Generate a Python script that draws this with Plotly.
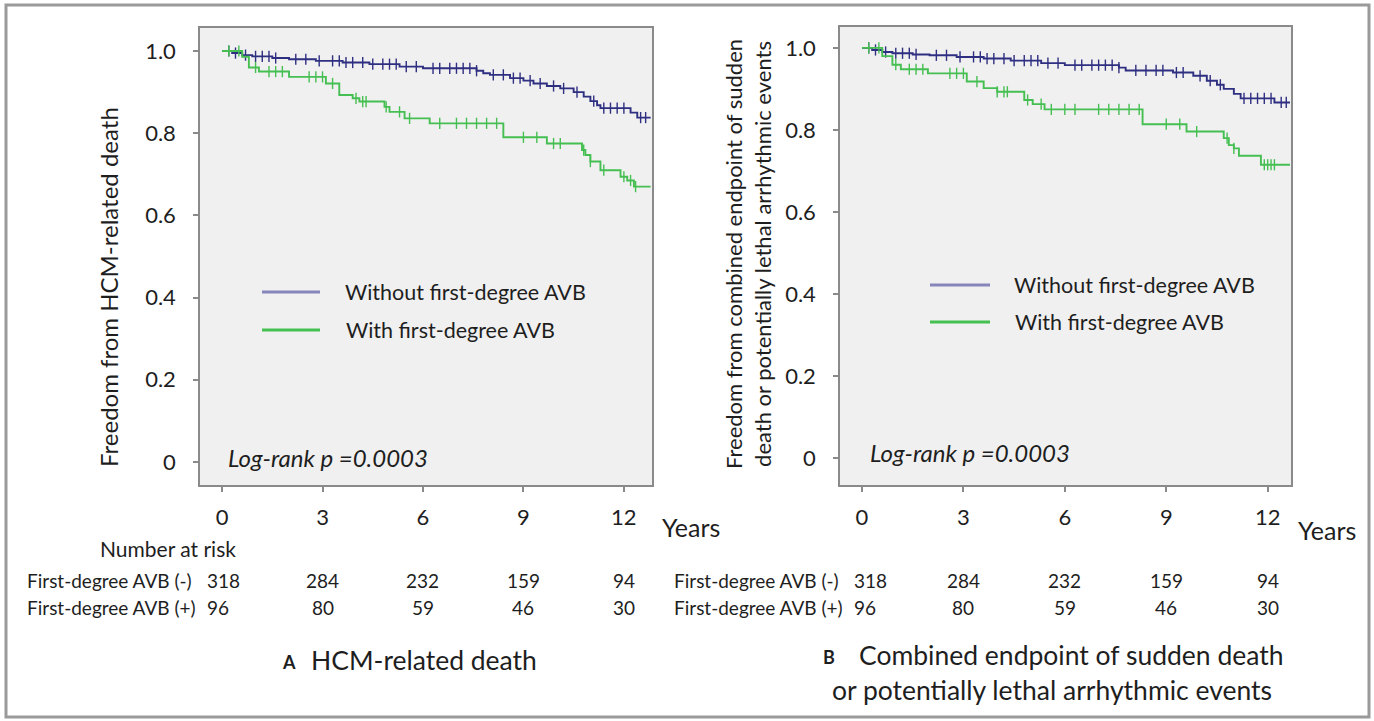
import numpy as np
import plotly.graph_objects as go

W, H = 1374, 721

# ---------------- data ----------------
years_ticks = [0, 3, 6, 9, 12]
surv_ticks = [0, 0.2, 0.4, 0.6, 0.8, 1.0]
surv_ticktext = ["0", "0.2", "0.4", "0.6", "0.8", "1.0"]

# Panel A: HCM-related death
a_without_t = [0, 0.3, 0.6, 0.9, 1.5, 2.0, 2.8, 3.6, 4.4, 5.3, 6.0, 7.6, 7.8, 8.0, 8.6, 9.0, 9.3, 9.7, 10.1, 10.5, 10.8, 11.0, 11.2, 11.3, 12.2, 12.4]
a_without_s = [1.0, 0.995, 0.99, 0.987, 0.983, 0.98, 0.976, 0.972, 0.968, 0.962, 0.958, 0.952, 0.946, 0.942, 0.934, 0.928, 0.921, 0.915, 0.909, 0.9, 0.889, 0.878, 0.868, 0.861, 0.85, 0.838]
a_with_t = [0, 0.6, 0.8, 1.1, 2.0, 3.1, 3.5, 3.9, 4.1, 4.85, 5.0, 5.45, 6.2, 8.4, 9.7, 10.75, 10.85, 11.0, 11.3, 11.9, 12.1, 12.3]
a_with_s = [1.0, 0.986, 0.96, 0.95, 0.937, 0.921, 0.893, 0.885, 0.877, 0.864, 0.852, 0.836, 0.824, 0.79, 0.775, 0.759, 0.747, 0.731, 0.71, 0.694, 0.685, 0.67]
a_end = 12.8
a_without_cens = [0.2, 0.4, 0.7, 1.0, 1.2, 1.4, 1.6, 2.2, 2.5, 2.9, 3.3, 3.5, 3.7, 3.9, 4.2, 4.5, 4.8, 5.0, 5.2, 5.5, 5.8, 6.3, 6.5, 6.8, 7.0, 7.2, 7.4, 7.6, 8.1, 8.4, 8.7, 8.9, 9.2, 9.5, 9.9, 10.2, 10.6, 11.1, 11.4, 11.6, 11.8, 12.0, 12.5, 12.65]
a_with_cens = [0.2, 0.5, 1.0, 1.4, 1.6, 1.8, 2.6, 2.8, 3.0, 3.3, 4.0, 4.2, 4.3, 4.9, 5.3, 5.6, 6.5, 7.0, 7.3, 7.6, 7.9, 8.2, 9.0, 9.4, 9.9, 10.1, 10.8, 11.0, 11.4, 12.0, 12.2, 12.35]

# Panel B: combined endpoint
b_without_t = [0, 0.3, 0.6, 0.9, 1.5, 2.0, 2.8, 3.6, 4.4, 5.3, 6.0, 7.6, 7.8, 9.2, 9.8, 10.2, 10.5, 10.7, 11.0, 11.2, 12.2]
b_without_s = [1.0, 0.995, 0.99, 0.987, 0.984, 0.982, 0.978, 0.974, 0.969, 0.963, 0.958, 0.952, 0.945, 0.94, 0.932, 0.92, 0.91, 0.9, 0.888, 0.877, 0.867]
b_with_t = [0, 0.6, 0.9, 1.15, 1.95, 3.1, 3.6, 4.0, 4.8, 5.05, 5.4, 8.3, 9.6, 10.7, 10.85, 11.0, 11.15, 11.8]
b_with_s = [1.0, 0.98, 0.959, 0.948, 0.938, 0.918, 0.902, 0.893, 0.873, 0.863, 0.85, 0.814, 0.796, 0.78, 0.763, 0.755, 0.737, 0.715]
b_end = 12.66
b_without_cens = [0.2, 0.4, 0.7, 1.0, 1.2, 1.4, 1.6, 2.2, 2.5, 2.9, 3.3, 3.5, 3.7, 3.9, 4.2, 4.5, 4.8, 5.0, 5.2, 5.5, 5.8, 6.3, 6.5, 6.8, 7.0, 7.2, 7.4, 7.6, 8.1, 8.4, 8.7, 8.9, 9.3, 9.5, 10.0, 10.3, 10.6, 11.3, 11.5, 11.7, 11.9, 12.1, 12.4, 12.55]
b_with_cens = [0.2, 0.5, 1.0, 1.4, 1.6, 1.8, 2.6, 2.8, 3.0, 3.4, 4.0, 4.2, 4.3, 4.9, 5.3, 5.6, 6.0, 6.3, 7.0, 7.3, 7.6, 7.9, 8.2, 9.0, 9.4, 9.9, 10.8, 11.0, 11.9, 12.0, 12.1, 12.2]

risk_label_neg = "First-degree AVB (-)"
risk_label_pos = "First-degree AVB (+)"
risk_neg = [318, 284, 232, 159, 94]
risk_pos = [96, 80, 59, 46, 30]

legend_without = "Without first-degree AVB"
legend_with = "With first-degree AVB"
logrank_text = "Log-rank p =0.0003"

BLUE = "#2f2f82"
GREEN = "#46bf52"
BLUE_LEG = "#8585ba"
GREEN_LEG = "#43c04f"
FONT = "Lato"
TXT = "#1e1e1e"


def px(x):
    return x / W


def py(y):
    return 1 - y / H


def step_at(times, surv, t):
    idx = np.searchsorted(np.array(times), np.array(t), side="right") - 1
    return np.array(surv)[idx]


fig = go.Figure()


def add_panel(tt, ss, cens, end, color, xa, ya):
    fig.add_trace(go.Scatter(
        x=list(tt) + [end], y=list(ss) + [ss[-1]], mode="lines",
        line=dict(color=color, width=1.9, shape="hv"),
        xaxis=xa, yaxis=ya, showlegend=False, hoverinfo="skip"))
    fig.add_trace(go.Scatter(
        x=cens, y=step_at(tt, ss, cens), mode="markers",
        marker=dict(symbol="line-ns-open", size=8, color=color,
                    line=dict(color=color, width=1.4)),
        xaxis=xa, yaxis=ya, showlegend=False, hoverinfo="skip"))


add_panel(a_without_t, a_without_s, a_without_cens, a_end, BLUE, "x", "y")
add_panel(a_with_t, a_with_s, a_with_cens, a_end, GREEN, "x", "y")
add_panel(b_without_t, b_without_s, b_without_cens, b_end, BLUE, "x2", "y2")
add_panel(b_with_t, b_with_s, b_with_cens, b_end, GREEN, "x2", "y2")

axis_common = dict(
    showgrid=False, zeroline=False, showline=True, mirror=True,
    linecolor="#8a8a8a", linewidth=1.5, ticks="outside", ticklen=5,
    tickcolor="#8a8a8a", tickwidth=1.5,
    tickfont=dict(family=FONT, size=22, color=TXT),
)

fig.update_layout(
    width=W, height=H, margin=dict(l=0, r=0, t=0, b=0),
    paper_bgcolor="white", plot_bgcolor="#f0f0f0",
    xaxis=dict(domain=[px(200), px(652)], range=[-0.66, 12.84], anchor="y",
               tickvals=years_ticks, ticklabelstandoff=7, **axis_common),
    yaxis=dict(domain=[py(485), py(28)], range=[-0.056, 1.056], anchor="x",
               tickvals=surv_ticks, ticktext=surv_ticktext, ticklabelstandoff=13, **axis_common),
    xaxis2=dict(domain=[px(840), px(1291)], range=[-0.65, 12.69], anchor="y2",
                tickvals=years_ticks, ticklabelstandoff=7, **axis_common),
    yaxis2=dict(domain=[py(485), py(27)], range=[-0.066, 1.051], anchor="x2",
                tickvals=surv_ticks, ticktext=surv_ticktext, ticklabelstandoff=13, **axis_common),
)

ann = []


def text(x, y, s, size=18, xanchor="center", yanchor="middle", angle=0, xref="paper", **kw):
    ann.append(dict(x=x if xref != "paper" else px(x), y=py(y), xref=xref, yref="paper",
                    text=s, showarrow=False, xanchor=xanchor, yanchor=yanchor,
                    textangle=angle, font=dict(family=FONT, size=size, color=TXT), **kw))


# axis titles
text(108, 287, "Freedom from HCM-related death", size=24, angle=-90)
text(748, 254, "Freedom from combined endpoint of sudden<br>death or potentially lethal arrhythmic events",
     size=22, angle=-90)
text(660, 527, "Years", size=25, xanchor="left")
text(1296, 530, "Years", size=25, xanchor="left")

# log-rank
text(226, 457, "<i>" + logrank_text + "</i>", size=24, xanchor="left")
text(868, 452, "<i>" + logrank_text + "</i>", size=24, xanchor="left")

# legends
shapes = []
for (x0, x1, yb, yg, tx) in [(262, 320, 292, 330, 343), (930, 990, 285, 322, 1012)]:
    shapes.append(dict(type="line", xref="paper", yref="paper", x0=px(x0), x1=px(x1),
                       y0=py(yb), y1=py(yb), line=dict(color=BLUE_LEG, width=3)))
    shapes.append(dict(type="line", xref="paper", yref="paper", x0=px(x0), x1=px(x1),
                       y0=py(yg), y1=py(yg), line=dict(color=GREEN_LEG, width=3)))
    text(tx, yb, legend_without, size=21.5, xanchor="left")
    text(tx + 1, yg, legend_with, size=21.5, xanchor="left")

# risk tables
text(238, 548, "Number at risk", size=21, xanchor="right")
for (lx, xr, first_x) in [(25, "x", -0.51), (672, "x2", -0.30)]:
    text(lx, 580, risk_label_neg, size=19, xanchor="left")
    text(lx, 607, risk_label_pos, size=19, xanchor="left")
    for i, t in enumerate(years_ticks):
        if i == 0:
            text(first_x, 580, str(risk_neg[i]), size=19, xanchor="left", xref=xr)
            text(first_x, 607, str(risk_pos[i]), size=19, xanchor="left", xref=xr)
        else:
            text(t, 580, str(risk_neg[i]), size=19, xref=xr)
            text(t, 607, str(risk_pos[i]), size=19, xref=xr)

# captions
text(280, 662, "<b>A</b>", size=18, xanchor="left")
text(309, 660, "HCM-related death", size=26.5, xanchor="left")
text(821, 657, "<b>B</b>", size=18, xanchor="left")
text(857, 655, "Combined endpoint of sudden death", size=26.5, xanchor="left")
text(830, 690, "or potentially lethal arrhythmic events", size=26.5, xanchor="left")

# outer frame
shapes.append(dict(type="rect", xref="paper", yref="paper", x0=px(6), x1=px(1369),
                   y0=py(717), y1=py(5), line=dict(color="#9a9a9a", width=3)))

fig.update_layout(annotations=ann, shapes=shapes)
fig.write_html("out.html")
